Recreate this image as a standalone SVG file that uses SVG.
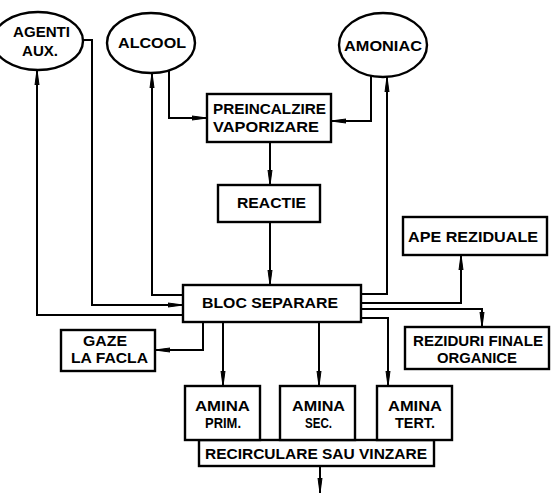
<svg xmlns="http://www.w3.org/2000/svg" width="553" height="493" viewBox="0 0 553 493">
  <style>
    .box { fill: #fff; stroke: #000; stroke-width: 2.4; }
    .ell { fill: #fff; stroke: #000; stroke-width: 2.4; }
    .arr { fill: none; stroke: #000; stroke-width: 2; marker-end: url(#tip); }
    text { font-family: "Liberation Sans", Arial, sans-serif; font-weight: bold; font-size: 15px; fill: #000; text-anchor: start; }
  </style>
  <defs>
    <marker id="tip" markerUnits="userSpaceOnUse" markerWidth="16" markerHeight="8" refX="15" refY="3.5" orient="auto">
      <path d="M0,1.5 L15,3.5 L0,5.5 z" fill="#000" stroke="#000" stroke-width="1"/>
    </marker>
  </defs>
  <rect width="553" height="493" fill="#fff"/>

  <!-- connectors -->
  <g id="connectors">
    <path class="arr" d="M169,70 V118 H207"/>
    <path class="arr" d="M371,76 V121 H331"/>
    <path class="arr" d="M270,142 V185"/>
    <path class="arr" d="M270,222 V285"/>
    <path class="arr" d="M183,295 H152 V73"/>
    <path class="arr" d="M82,40 H92 V305 H183"/>
    <path class="arr" d="M183,315 H37 V70"/>
    <path class="arr" d="M361,294 H387 V77"/>
    <path class="arr" d="M361,303 H461 V255"/>
    <path class="arr" d="M361,309 H482 V327"/>
    <path class="arr" d="M361,318 H388 V386"/>
    <path class="arr" d="M203,322 V350 H155"/>
    <path class="arr" d="M223,322 V386"/>
    <path class="arr" d="M319,322 V386"/>
    <path class="arr" d="M320,466 V493"/>
  </g>

  <!-- feed tanks -->
  <g id="agenti">
    <ellipse class="ell" cx="38" cy="41" rx="45" ry="29"/>
    <text x="13" y="37" textLength="57" lengthAdjust="spacingAndGlyphs">AGENTI</text>
    <text x="22" y="56" textLength="36" lengthAdjust="spacingAndGlyphs">AUX.</text>
  </g>
  <g id="alcool">
    <ellipse class="ell" cx="151" cy="43" rx="44" ry="30"/>
    <text x="118" y="48" textLength="68" lengthAdjust="spacingAndGlyphs">ALCOOL</text>
  </g>
  <g id="amoniac">
    <ellipse class="ell" cx="383" cy="45" rx="44" ry="32"/>
    <text x="344" y="51" textLength="78" lengthAdjust="spacingAndGlyphs">AMONIAC</text>
  </g>

  <!-- process blocks -->
  <g id="preincalzire">
    <rect class="box" x="207" y="94" width="124" height="48"/>
    <text x="213" y="114" textLength="113" lengthAdjust="spacingAndGlyphs">PREINCALZIRE</text>
    <text x="213" y="132" textLength="106" lengthAdjust="spacingAndGlyphs">VAPORIZARE</text>
  </g>
  <g id="reactie">
    <rect class="box" x="218" y="185" width="102" height="37"/>
    <text x="237" y="208" textLength="69" lengthAdjust="spacingAndGlyphs">REACTIE</text>
  </g>
  <g id="bloc-separare">
    <rect class="box" x="183" y="285" width="178" height="37"/>
    <text x="202" y="308" textLength="136" lengthAdjust="spacingAndGlyphs">BLOC SEPARARE</text>
  </g>
  <g id="ape-reziduale">
    <rect class="box" x="403" y="217" width="144" height="38"/>
    <text x="408" y="242" textLength="130" lengthAdjust="spacingAndGlyphs">APE REZIDUALE</text>
  </g>
  <g id="reziduri">
    <rect class="box" x="405" y="327" width="144" height="42"/>
    <text x="413" y="346" textLength="130" lengthAdjust="spacingAndGlyphs">REZIDURI FINALE</text>
    <text x="437" y="363" textLength="80" lengthAdjust="spacingAndGlyphs">ORGANICE</text>
  </g>
  <g id="gaze">
    <rect class="box" x="61" y="330" width="94" height="41"/>
    <text x="83" y="346" textLength="44" lengthAdjust="spacingAndGlyphs">GAZE</text>
    <text x="71" y="363" textLength="77" lengthAdjust="spacingAndGlyphs">LA FACLA</text>
  </g>

  <!-- products -->
  <g id="recirculare">
    <rect class="box" x="199" y="440" width="235" height="26"/>
    <text x="205" y="459" textLength="222" lengthAdjust="spacingAndGlyphs">RECIRCULARE SAU VINZARE</text>
  </g>
  <g id="amina-prim">
    <rect class="box" x="185" y="386" width="75" height="54"/>
    <text x="195" y="411" textLength="55" lengthAdjust="spacingAndGlyphs">AMINA</text>
    <text x="205" y="428" textLength="36" lengthAdjust="spacingAndGlyphs">PRIM.</text>
  </g>
  <g id="amina-sec">
    <rect class="box" x="280" y="386" width="75" height="54"/>
    <text x="292" y="411" textLength="53" lengthAdjust="spacingAndGlyphs">AMINA</text>
    <text x="305" y="428" textLength="27" lengthAdjust="spacingAndGlyphs">SEC.</text>
  </g>
  <g id="amina-tert">
    <rect class="box" x="377" y="386" width="75" height="54"/>
    <text x="388" y="411" textLength="54" lengthAdjust="spacingAndGlyphs">AMINA</text>
    <text x="395" y="428" textLength="40" lengthAdjust="spacingAndGlyphs">TERT.</text>
  </g>
</svg>
